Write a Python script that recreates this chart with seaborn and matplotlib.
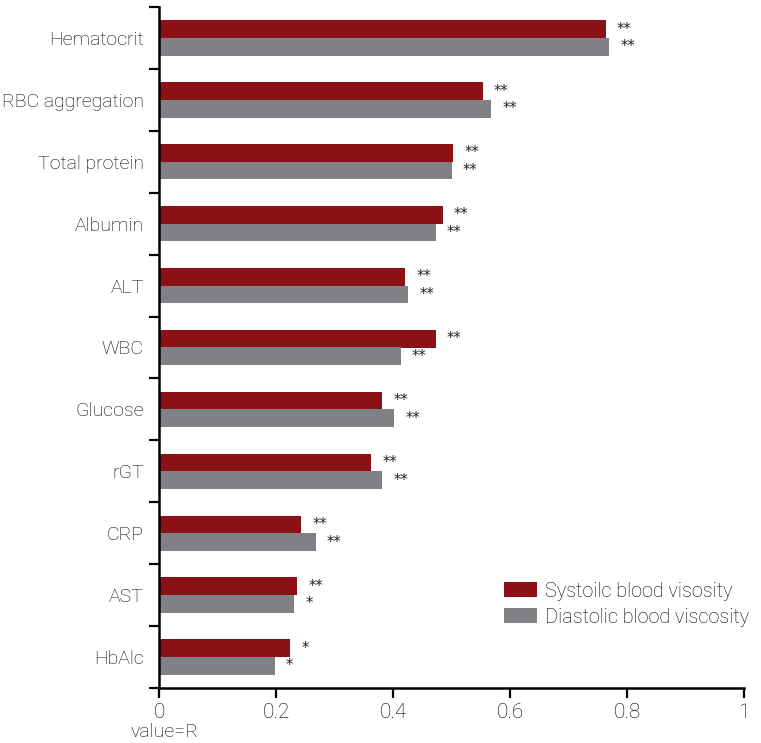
import matplotlib

matplotlib.use("Agg")

import matplotlib.pyplot as plt
import numpy as np
import pandas as pd
import seaborn as sns
from matplotlib.ticker import FixedLocator

# --------------------------------------------------------------------------- #
# data (correlation R with blood viscosity)
# --------------------------------------------------------------------------- #
categories = ["Hematocrit", "RBC aggregation", "Total protein", "Albumin", "ALT",
              "WBC", "Glucose", "rGT", "CRP", "AST", "HbAlc"]
systolic = [0.764, 0.553, 0.503, 0.485, 0.421, 0.473, 0.382, 0.363, 0.243, 0.236, 0.224]
diastolic = [0.770, 0.568, 0.500, 0.473, 0.426, 0.413, 0.402, 0.382, 0.268, 0.231, 0.198]
systolic_sig = ["**"] * 10 + ["*"]
diastolic_sig = ["**"] * 9 + ["*", "*"]
series = ["Systoilc blood visosity", "Diastolic blood viscosity"]
colors = ["#8c1117", "#808184"]
xticks = [0, 0.2, 0.4, 0.6, 0.8, 1.0]
xtick_labels = ["0", "0.2", "0.4", "0.6", "0.8", "1"]

df = pd.DataFrame({
    "category": categories * 2,
    "value": systolic + diastolic,
    "series": [series[0]] * len(categories) + [series[1]] * len(categories),
})

sns.set_style("white")
plt.rcParams["font.family"] = ["Roboto", "DejaVu Sans"]
plt.rcParams["font.weight"] = "light"
text_color = "#000000"
fs = 14

fig = plt.figure(figsize=(7.61, 7.43), dpi=100)
ax = fig.add_axes([159 / 761, 55 / 743, 585 / 761, 681 / 743])

sns.barplot(data=df, x="value", y="category", hue="series", order=categories,
            hue_order=series, palette=colors, width=0.57, orient="h",
            saturation=1, linewidth=0, ax=ax)

for cont, sig in zip(ax.containers, [systolic_sig, diastolic_sig]):
    ax.bar_label(cont, labels=sig, padding=8, fontsize=10.5, fontweight="normal",
                 color="#231f20", family="DejaVu Sans")

ax.set_xlim(0, 1)
ax.set_ylim(len(categories) - 0.5, -0.5)
ax.set_xticks(xticks)
ax.set_xticklabels(xtick_labels, fontsize=15, color=text_color)
ax.tick_params(axis="x", length=7, width=1.6, color="black", pad=4, direction="out",
               bottom=True)
ax.tick_params(axis="y", which="major", length=0, pad=11, labelsize=fs,
               labelcolor=text_color)
ax.yaxis.set_minor_locator(FixedLocator(np.arange(-0.5, len(categories), 1.0)))
ax.tick_params(axis="y", which="minor", length=7, width=1.6, color="black",
               direction="out", left=True)

ax.set_ylabel("")
ax.set_xlabel("value=R", fontsize=fs, color=text_color, fontweight="light")
ax.xaxis.set_label_coords(0.009, -0.052)

sns.despine(ax=ax, top=True, right=True)
for s in ("left", "bottom"):
    ax.spines[s].set_linewidth(1.8)
    ax.spines[s].set_color("black")

ax.legend(loc="upper left", bbox_to_anchor=(0.59, 0.156), frameon=False,
          fontsize=14.3, handlelength=1.65, handleheight=0.8, handletextpad=0.4,
          labelspacing=0.35, borderpad=0, borderaxespad=0, labelcolor=text_color)

fig.savefig("out.png", dpi=100)
